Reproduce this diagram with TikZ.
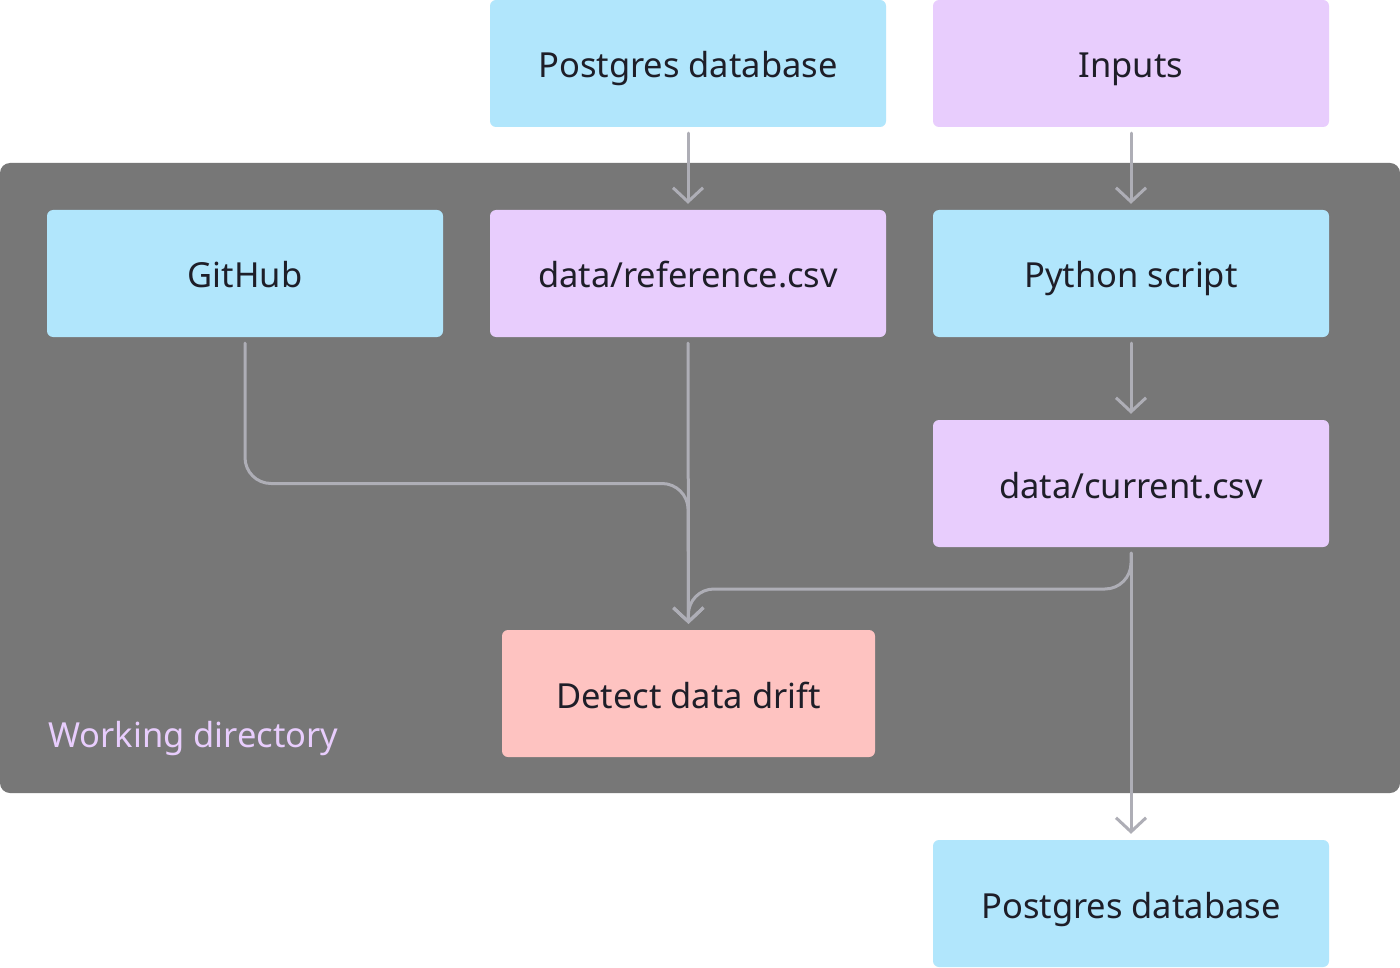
\documentclass[tikz,border=0pt]{standalone}
\usepackage{fontspec}
\setmainfont{Noto Sans}
\usetikzlibrary{arrows.meta}
\definecolor{boxblue}{HTML}{B1E6FC}
\definecolor{boxpurple}{HTML}{E8CDFD}
\definecolor{boxpink}{HTML}{FEC3C1}
\definecolor{wdgray}{HTML}{777777}
\definecolor{txtdark}{HTML}{1E1E28}
\definecolor{arrgray}{HTML}{AEAEB6}
\tikzset{
  lbl/.style={font=\fontsize{34.5}{40}\selectfont, text height=29pt, text depth=0pt},
  box/.style={rectangle, rounded corners=6pt, minimum width=396pt, minimum height=127pt,
    inner sep=0pt, text=txtdark, lbl},
  bluebox/.style={box, fill=boxblue},
  purplebox/.style={box, fill=boxpurple},
  pinkbox/.style={box, fill=boxpink, minimum width=373pt},
  arr/.style={draw=arrgray, line width=3pt, line cap=round, line join=round,
    -{Straight Barb[length=14pt, width=30pt, line width=3pt]}}
}
\begin{document}
\begin{tikzpicture}[x=1pt,y=-1pt]
\fill[white] (0,0) rectangle (1400,968);
\useasboundingbox (0,0) rectangle (1400,968);
\fill[wdgray, rounded corners=10pt] (0,163) rectangle (1400,793);
\node[bluebox] (pg1) at (688,63.5) {Postgres database};
\node[purplebox] (inputs) at (1131,63.5) {Inputs};
\node[bluebox] (github) at (245,273.5) {GitHub};
\node[purplebox] (ref) at (688,273.5) {data/reference.csv};
\node[bluebox] (py) at (1131,273.5) {Python script};
\node[purplebox] (cur) at (1131,483.5) {data/current.csv};
\node[pinkbox] (drift) at (688.5,693.5) {Detect data drift};
\node[bluebox] (pg2) at (1131,903.5) {Postgres database};
\node[anchor=west, text=boxpurple, inner sep=0pt, lbl] (wd) at (48,733) {Working directory};
\coordinate (j) at (688,589);
\draw[arr] ([yshift=-6pt]pg1.south) -- ([yshift=6pt]ref.north);
\draw[arr] ([yshift=-6pt]inputs.south) -- ([yshift=6pt]py.north);
\draw[arr] ([yshift=-6pt]py.south) -- ([yshift=6pt]cur.north);
\draw[arr] ([yshift=-6pt]ref.south) -- ([yshift=6pt]drift.north);
\draw[arr, rounded corners=26pt] ([yshift=-6pt]github.south) -- (github.south |- cur.center) -- (ref.south |- cur.center) -- ([yshift=6pt]drift.north);
\draw[arr, rounded corners=26pt] ([yshift=-6pt]cur.south) -- (cur.south |- j) -- (j) -- ([yshift=6pt]drift.north);
\draw[arr] ([yshift=-6pt]cur.south) -- ([yshift=6pt]pg2.north);
\end{tikzpicture}
\end{document}
